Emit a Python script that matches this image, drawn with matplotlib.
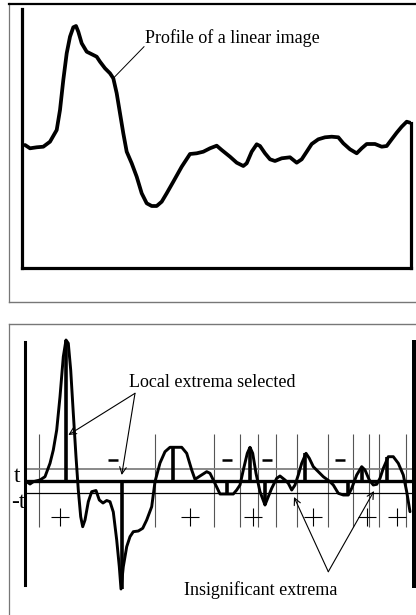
import matplotlib
matplotlib.use("Agg")
import matplotlib.pyplot as plt
from matplotlib.lines import Line2D

plt.rcParams['font.family'] = ['Liberation Serif', 'DejaVu Serif']

# profile of the linear image (top panel)
profile_x = [3, 8, 14.7, 21.3, 28, 34.7, 38, 41.3, 44.7, 48, 51.3, 54, 56.3, 59.7,
             64.7, 71.3, 74.7, 78, 83, 88, 91.3, 94.7, 98, 101.3, 104.7, 109.7,
             114.7, 119.7, 124.7, 129.7, 134.7, 139.7, 144.7, 151.3, 159.7, 168,
             174.7, 181.3, 188, 194.7, 199.7, 208, 214.7, 221.3, 224.7, 229.7,
             234.7, 238, 243, 248, 253, 259.7, 268, 274.7, 279.7, 284.7, 289.7,
             296.3, 303, 309.7, 316.3, 321.3, 328, 334.7, 339.7, 344.7, 353,
             359.7, 364.7, 369.7, 374.7, 379.7, 384.7, 388]
profile_y = [123, 119.7, 120.7, 121.3, 126.3, 138, 158, 188, 214.7, 231.3, 240.7,
             242, 236.3, 224.7, 216.3, 213, 211.3, 206.3, 199.7, 194.7, 189.7,
             174.7, 154.7, 134.7, 116.3, 104.7, 91.3, 74.7, 64.7, 62, 62, 66.3,
             74.7, 86.3, 101.3, 114, 114.7, 116.3, 119.7, 122.3, 118, 111.3,
             105.3, 102, 104.7, 116.3, 123.7, 122, 114.7, 108.7, 107, 109.7,
             110.7, 105.3, 108.7, 116.3, 124, 128.7, 130.7, 131.3, 130.7, 124.7,
             118.7, 114.7, 119.7, 124, 124, 121.3, 122, 128.7, 135.3, 141.3,
             146.3, 145.3]

# filtered signal (bottom panel), zero at the thick line
signal_x = [1.7, 5, 8.3, 15, 20, 25, 28.3, 31.7, 35, 38.3, 41, 43.3, 45.7, 48.3,
            51, 53.3, 55.7, 57.7, 60, 63.3, 66.7, 71, 74.3, 78, 81.7, 85, 88.3,
            91.7, 94.3, 96, 98.3, 101.7, 105, 108.3, 113.3, 117.7, 121.7, 126.7,
            130, 135, 140, 145, 156.7, 161.7, 166.7, 170, 175, 181.7, 185, 188.3,
            192.3, 195, 208.3, 211.7, 215, 218.3, 222.3, 225, 227.7, 231, 235,
            240, 243.3, 246.7, 251.7, 255, 260, 263.3, 266.7, 270, 273.3, 276.7,
            281, 284.3, 288.3, 293.3, 298.3, 305, 308.3, 313.3, 318.3, 323.3,
            326.7, 331.7, 336.7, 340, 344.3, 348.3, 351.7, 355, 358.3, 363.3,
            368.3, 373.3, 378.3, 381.7, 385]
signal_y = [-0.7, -3, -0.7, 1, 4.3, 17.7, 31, 51, 84.3, 124.3, 141, 137.7, 111,
            67.7, 24.3, -9, -35.7, -45.7, -39, -20.7, -10.7, -9.5, -19, -22,
            -19.5, -20.7, -31, -59, -85.7, -108, -85.7, -65.7, -55.7, -50.7, -50,
            -47.3, -39, -25.7, -0.7, 18, 29.3, 33.7, 33.7, 27.7, 11, 1.7, 5, 9.3,
            7.7, 1, -7.3, -13, -13, -9, -4, 11, 27.7, 33.7, 27.7, 7.7, -10.7, -24,
            -15.7, -7.3, 2.7, 5, 1, -2.3, -9, -4, 6, 17.7, 27.7, 22.7, 14.3, 9.3,
            4.3, -0.7, -4, -12.3, -14, -14, -7.3, 6, 14.3, 11, 1, -4, -3.3, 2.7,
            12.7, 24.3, 24.3, 17.7, 6, -10.7, -30.7]

threshold = 12.3

# selected local extrema
extrema_x = [41, 96.7, 148.3, 201.7, 225, 240, 280, 323, 336.7, 361.7]
extrema_y = [141, -108, 33.7, -13, 33.7, -24, 27.7, -14, 14.3, 24.3]

# segment boundaries and signs
bounds_x = [14, 130, 189, 215, 233.3, 250.7, 271.7, 303.3, 327.7, 344.3, 354.3, 381]
minus_x = [88.3, 201.7, 241.7, 315]
plus_x = [35, 165, 228.3, 288.3, 342, 372]

W, H = 416, 615
fig = plt.figure(figsize=(W / 100, H / 100), dpi=100)


def fx(px):
    return px / W


def fy(py):
    return 1 - py / H


# outer frames
fig.add_artist(Line2D([fx(9), fx(9)], [fy(3), fy(302)], color='#777777', lw=0.9))
fig.add_artist(Line2D([fx(9), fx(416)], [fy(302), fy(302)], color='#777777', lw=1.0))
fig.add_artist(Line2D([fx(9), fx(416)], [fy(3.5), fy(3.5)], color='black', lw=1.6))
fig.add_artist(Line2D([fx(9), fx(416)], [fy(324), fy(324)], color='#777777', lw=1.0))
fig.add_artist(Line2D([fx(9), fx(9)], [fy(324), fy(615)], color='#777777', lw=0.9))

# ---- top panel ----
ax1 = fig.add_axes([fx(22), fy(268), 389 / W, 259 / H])
ax1.set_xlim(0, 389)
ax1.set_ylim(0, 259)
for side in ['top', 'right']:
    ax1.spines[side].set_visible(False)
for side in ['left', 'bottom']:
    ax1.spines[side].set_linewidth(2.3)
ax1.set_xticks([])
ax1.set_yticks([])
ax1.patch.set_alpha(0)
ax1.plot(profile_x, profile_y, color='black', lw=2.7, solid_joinstyle='round',
         solid_capstyle='round')
ax1.plot([389, 389], [0, profile_y[-1]], color='black', lw=2.3, clip_on=False)
ax1.plot([122, 91.3], [221.3, 189.7], color='black', lw=0.7)
ax1.text(123, 224.7, 'Profile of a linear image', fontsize=13, va='baseline', ha='left')

# ---- bottom panel ----
ax2 = fig.add_axes([fx(25), fy(600), 387 / W, 264 / H])
ax2.set_xlim(0, 387)
ax2.set_ylim(-119, 145)
ax2.axis('off')

ax2.vlines(bounds_x, -46, 47, color='#555555', lw=0.8)
ax2.hlines(threshold, 0, 387, color='#808080', lw=1.3)
ax2.hlines(-threshold, 0, 387, color='black', lw=0.9)
ax2.hlines(0, 0, 387, color='black', lw=2.4)
ax2.plot(signal_x, signal_y, color='black', lw=2.1, solid_joinstyle='round',
         solid_capstyle='round')
ax2.vlines(extrema_x, 0, extrema_y, color='black', lw=2.6)

ax2.plot(minus_x, [21.5] * len(minus_x), ls='none', marker='_', ms=7, mew=1.8, color='black')
ax2.plot(plus_x, [-35.7] * len(plus_x), ls='none', marker='+', ms=12.5, mew=0.8, color='black')

ax2.text(-8, 4, 't', fontsize=17, ha='center', va='center')
ax2.text(1, -21, '-t', fontsize=17, ha='right', va='center')
ax2.plot([0, 0], [-104, 139.3], color='black', lw=2.2, clip_on=False)
ax2.plot([388.5, 388.5], [-104, 139.3], color='black', lw=3.6, clip_on=False)

ax2.text(187.5, 93.7, 'Local extrema selected', fontsize=13, ha='center', va='baseline')
for ex, ey in [(43.3, 46), (96.7, 6)]:
    ax2.annotate('', xy=(ex, ey), xytext=(110, 87.7),
                 arrowprops=dict(arrowstyle='->', lw=0.8, shrinkA=0, shrinkB=0,
                                 mutation_scale=12))

ax2.text(236, -114, 'Insignificant extrema', fontsize=13, ha='center', va='baseline')
for ex, ey in [(269, -16), (349, -10)]:
    ax2.annotate('', xy=(ex, ey), xytext=(303.3, -90.7),
                 arrowprops=dict(arrowstyle='->', lw=0.8, shrinkA=0, shrinkB=0,
                                 mutation_scale=12))

fig.savefig('out.png', dpi=100)
